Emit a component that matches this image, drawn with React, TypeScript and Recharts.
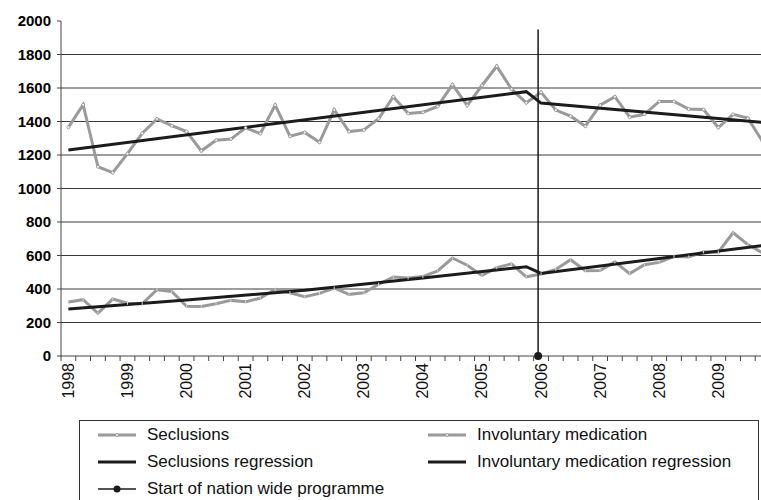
import { LineChart, Line, XAxis, YAxis, CartesianGrid } from 'recharts'

// quarterly counts, 1998 Q1 .. 2009 Q4
const years = ['1998', '1999', '2000', '2001', '2002', '2003', '2004', '2005', '2006', '2007', '2008', '2009']

const seclusions = [
  1365, 1500, 1130, 1095, 1208, 1330, 1415, 1375, 1340, 1225, 1288, 1295,
  1362, 1328, 1498, 1312, 1335, 1276, 1470, 1340, 1350, 1416, 1548, 1448,
  1455, 1490, 1620, 1496, 1615, 1730, 1593, 1512, 1575, 1468, 1432, 1372,
  1497, 1548, 1426, 1443, 1520, 1520, 1474, 1472, 1364, 1443, 1420, 1280,
]

const medication = [
  322, 336, 255, 340, 315, 312, 396, 385, 297, 295, 312, 332,
  324, 345, 398, 378, 354, 374, 406, 368, 378, 428, 472, 466,
  474, 508, 585, 542, 480, 528, 550, 473, 490, 517, 575, 509,
  510, 562, 492, 545, 559, 595, 591, 622, 620, 736, 665, 615,
]

// regression fits: [quarter index, value]
const seclusionsFit: [number, number][] = [[0, 1230], [31, 1578], [32, 1510], [47, 1395]]
const medicationFit: [number, number][] = [[0, 280], [8, 335], [16, 392], [24, 465], [31, 533], [32, 493], [47, 660]]

// start of the programme, 2006 Q1
const programmeStart: [number, number][] = [[31.8, 0], [31.8, 1950]]

const yTicks = [0, 200, 400, 600, 800, 1000, 1200, 1400, 1600, 1800, 2000]
const gridValues = [200, 400, 600, 800, 1000, 1200, 1400, 1600, 1800]

const QUARTERS = 48
const PLOT_W = 709
const BAND = PLOT_W / QUARTERS

const toRows = (vals: number[]) => vals.map((v, i) => ({ q: i + 0.5, v }))
const fitRows = (pts: [number, number][]) => pts.map(([i, v]) => ({ q: i + 0.5, v }))

const FONT = "'Liberation Sans', Arial, sans-serif"
const GREY = '#9a9a9a'
const DARK = '#1b1b1b'

const YearTick = (props: any) => {
  const { x, y, payload } = props
  const v = payload.value
  if (v % 4 !== 0 || v >= QUARTERS) return <g />
  const cx = x + BAND / 2
  return (
    <text
      x={cx}
      y={y}
      transform={`rotate(-90, ${cx}, ${y})`}
      textAnchor="end"
      dominantBaseline="central"
      fontSize={16}
      fontFamily={FONT}
      fill="#111"
    >
      {years[v / 4]}
    </text>
  )
}

const SmallDot = (props: any) => {
  const { cx, cy, index } = props
  return <circle key={index} cx={cx} cy={cy} r={1.5} fill="#f4f4f4" stroke="#7d7d7d" strokeWidth={0.6} />
}

const DashDot = (props: any) => {
  const { cx, cy, index } = props
  return <line key={index} x1={cx} y1={cy - 1.6} x2={cx} y2={cy + 1.6} stroke="#d0d0d0" strokeWidth={1} />
}

const StartDot = (props: any) => {
  const { cx, cy, index } = props
  if (index !== 0) return <g key={index} />
  return <circle key={index} cx={cx} cy={cy} r={4} fill={DARK} />
}

const Sample = ({ kind }: { kind: string }) => (
  <svg width={40} height={10} style={{ marginRight: 10, flexShrink: 0 }}>
    {kind === 'grey' && <line x1={1} y1={5} x2={39} y2={5} stroke={GREY} strokeWidth={3} />}
    {kind === 'grey' && <circle cx={20} cy={5} r={1.5} fill="#f4f4f4" stroke="#7d7d7d" strokeWidth={0.6} />}
    {kind === 'dark' && <line x1={1} y1={5} x2={39} y2={5} stroke={DARK} strokeWidth={3} />}
    {kind === 'start' && <line x1={1} y1={5} x2={39} y2={5} stroke={DARK} strokeWidth={1.5} />}
    {kind === 'start' && <circle cx={20} cy={5} r={3.5} fill={DARK} />}
  </svg>
)

const legendItems = [
  { label: 'Seclusions', kind: 'grey' },
  { label: 'Involuntary medication', kind: 'grey' },
  { label: 'Seclusions regression', kind: 'dark' },
  { label: 'Involuntary medication regression', kind: 'dark' },
  { label: 'Start of nation wide programme', kind: 'start' },
]

const ChartLegend = () => (
  <div
    style={{
      position: 'absolute',
      left: 79,
      top: 420,
      width: 680,
      height: 100,
      border: '1px solid #333',
      boxSizing: 'border-box',
      fontFamily: FONT,
      fontSize: 17,
      color: '#111',
      display: 'grid',
      gridTemplateColumns: '330px 1fr',
      gridAutoRows: '27px',
      padding: '0 0 0 17px',
    }}
  >
    {legendItems.map((it) => (
      <div key={it.label} style={{ display: 'flex', alignItems: 'center', whiteSpace: 'nowrap' }}>
        <Sample kind={it.kind} />
        {it.label}
      </div>
    ))}
  </div>
)

export default function App() {
  return (
    <div style={{ position: 'absolute', left: 0, top: 0, width: 761, height: 500, overflow: 'hidden', background: '#fff' }}>
      <LineChart width={800} height={500} margin={{ top: 21, right: 30, left: 0, bottom: 0 }}>
        <CartesianGrid vertical={false} horizontalValues={gridValues} stroke="#3a3a3a" strokeWidth={1} />
        <XAxis
          dataKey="q"
          type="number"
          domain={[0, QUARTERS]}
          ticks={Array.from({ length: QUARTERS + 1 }, (_, i) => i)}
          interval={0}
          allowDataOverflow
          height={144}
          tickSize={5}
          tickMargin={2}
          tick={<YearTick />}
          axisLine={{ stroke: '#444' }}
          tickLine={{ stroke: '#444' }}
        />
        <YAxis
          type="number"
          domain={[0, 2000]}
          ticks={yTicks}
          interval={0}
          width={61}
          tickSize={4}
          tickMargin={6}
          tick={{ fontSize: 15, fontWeight: 'bold', fill: '#000', fontFamily: FONT }}
          axisLine={{ stroke: '#444' }}
          tickLine={{ stroke: '#444' }}
        />
        <Line data={toRows(seclusions)} dataKey="v" stroke={GREY} strokeWidth={3} dot={<SmallDot />} isAnimationActive={false} />
        <Line data={toRows(medication)} dataKey="v" stroke={GREY} strokeWidth={3} dot={<DashDot />} isAnimationActive={false} />
        <Line data={fitRows(seclusionsFit)} dataKey="v" stroke={DARK} strokeWidth={3} dot={false} isAnimationActive={false} />
        <Line data={fitRows(medicationFit)} dataKey="v" stroke={DARK} strokeWidth={3} dot={false} isAnimationActive={false} />
        <Line data={fitRows(programmeStart)} dataKey="v" stroke={DARK} strokeWidth={1.5} dot={<StartDot />} isAnimationActive={false} />
      </LineChart>
      <ChartLegend />
    </div>
  )
}
